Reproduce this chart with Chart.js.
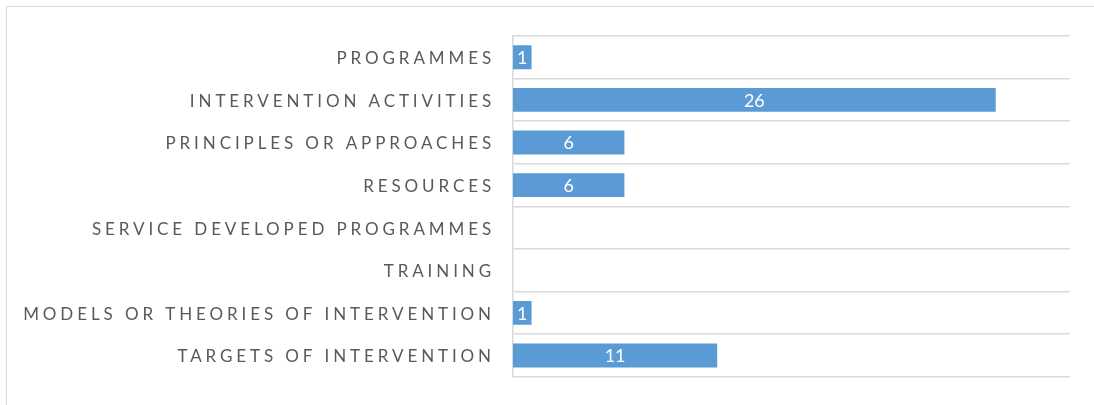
<!DOCTYPE html>
<html>
<head>
<meta charset="utf-8">
<script src="https://cdn.jsdelivr.net/npm/chart.js@4.4.0/dist/chart.umd.min.js"></script>
<style>
    html, body { margin: 0; padding: 0; background: #fff; }
    body { width: 1094px; height: 405px; position: relative; overflow: hidden; }
    .frame {
        position: absolute; left: 6px; top: 6px; width: 1100px; height: 420px;
        border: 1.5px solid #d9d9d9; box-sizing: border-box;
    }
    .wrap { position: absolute; left: 0; top: 0; width: 1094px; height: 405px; }
</style>
</head>
<body>
<div class="frame"></div>
<div class="wrap"><canvas id="barChart"></canvas></div>
<script>
// ─── DATA ────────────────────────────────────────────────────
const categories = [
    'PROGRAMMES',
    'INTERVENTION ACTIVITIES',
    'PRINCIPLES OR APPROACHES',
    'RESOURCES',
    'SERVICE DEVELOPED PROGRAMMES',
    'TRAINING',
    'MODELS OR THEORIES OF INTERVENTION',
    'TARGETS OF INTERVENTION'
];
const counts = [1, 26, 6, 6, 0, 0, 1, 11];
const axisMax = 30;

// ─── PLUGINS ─────────────────────────────────────────────────
// spaced-out category labels (canvas letterSpacing)
const letterSpacing = {
    id: 'letterSpacing',
    beforeDraw(chart) { chart.ctx.letterSpacing = '3.9px'; },
    beforeDatasetsDraw(chart) { chart.ctx.letterSpacing = '0px'; }
};

// value written in the middle of each bar
const barValues = {
    id: 'barValues',
    afterDatasetsDraw(chart) {
        const ctx = chart.ctx;
        const meta = chart.getDatasetMeta(0);
        ctx.save();
        ctx.letterSpacing = '0px';
        ctx.fillStyle = '#ffffff';
        ctx.font = '18px Lato, "Open Sans", sans-serif';
        ctx.textAlign = 'center';
        ctx.textBaseline = 'middle';
        meta.data.forEach((bar, i) => {
            if (!counts[i]) return;
            const { x, y, base } = bar.getProps(['x', 'y', 'base'], true);
            ctx.fillText(String(counts[i]), (x + base) / 2, y + 1);
        });
        ctx.restore();
    }
};

// ─── CHART ───────────────────────────────────────────────────
new Chart(document.getElementById('barChart'), {
    type: 'bar',
    data: {
        labels: categories,
        datasets: [{
            data: counts,
            backgroundColor: '#5b9bd5',
            borderWidth: 0,
            categoryPercentage: 0.56,
            barPercentage: 1
        }]
    },
    options: {
        indexAxis: 'y',
        responsive: true,
        maintainAspectRatio: false,
        animation: false,
        layout: { padding: { top: 36, bottom: 25, right: 24, left: 0 } },
        plugins: { legend: { display: false }, tooltip: { enabled: false } },
        scales: {
            x: { display: false, min: 0, max: axisMax },
            y: {
                afterFit(scale) { scale.width = 513; },
                grid: { color: '#d9d9d9', lineWidth: 1.5, drawTicks: false, offset: true },
                border: { color: '#d9d9d9', width: 1.5 },
                ticks: {
                    color: '#595959',
                    padding: 18,
                    labelOffset: 1.5,
                    font: { family: 'Lato, "Open Sans", sans-serif', size: 17 }
                }
            }
        }
    },
    plugins: [letterSpacing, barValues]
});
</script>
</body>
</html>
